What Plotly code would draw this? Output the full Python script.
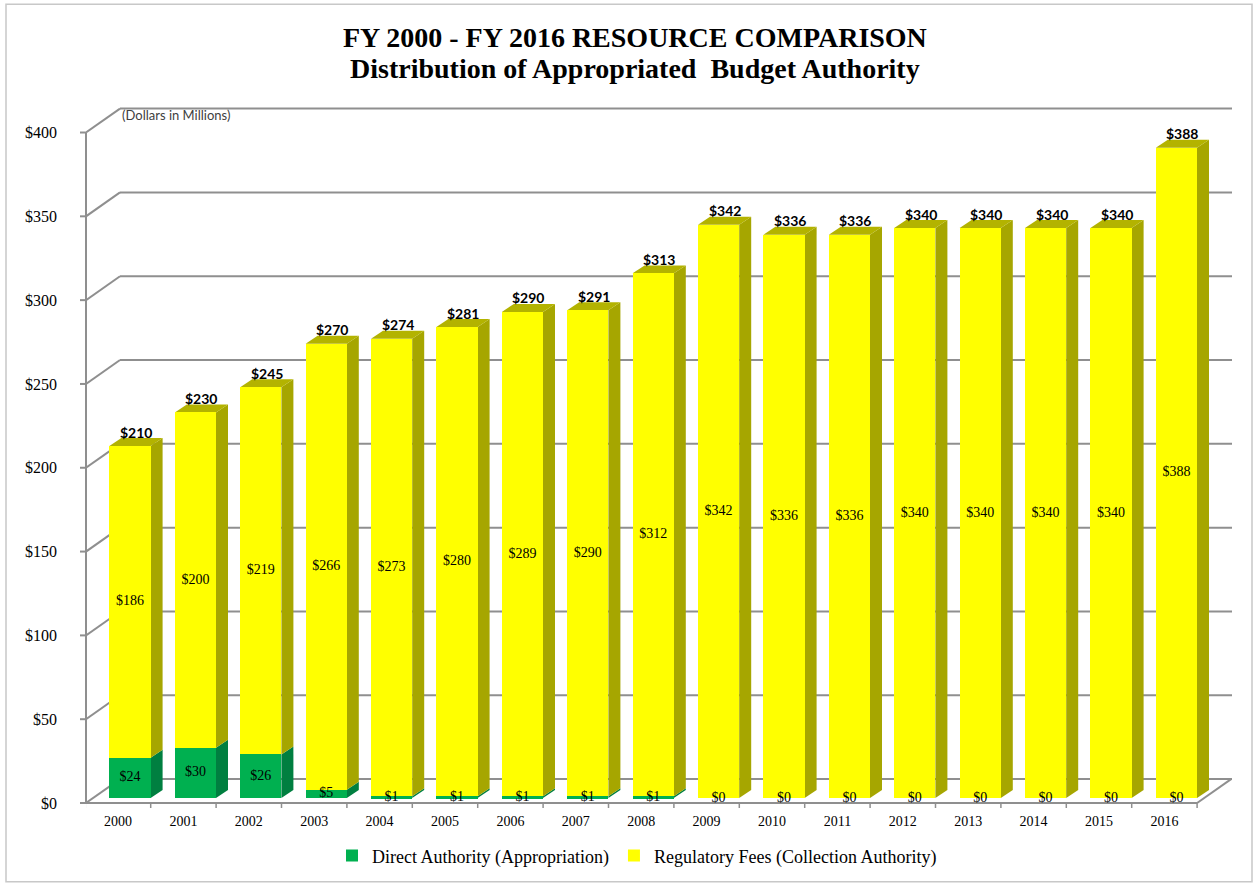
import plotly.graph_objects as go

# ---------------- data ----------------
years = [str(y) for y in range(2000, 2017)]
direct = [24, 30, 26, 5, 1, 1, 1, 1, 1, 0, 0, 0, 0, 0, 0, 0, 0]
regulatory = [186, 200, 219, 266, 273, 280, 289, 290, 312, 342, 336, 336, 340, 340, 340, 340, 388]
totals = [210, 230, 245, 270, 274, 281, 290, 291, 313, 342, 336, 336, 340, 340, 340, 340, 388]
y_ticks = [0, 50, 100, 150, 200, 250, 300, 350, 400]
y_tick_text = ["$" + str(v) for v in y_ticks]
title_line1 = "FY 2000 - FY 2016 RESOURCE COMPARISON"
title_line2 = "Distribution of Appropriated  Budget Authority"

# ---------------- layout geometry (pixel projection of the pseudo-3D view) ----------------
W, H = 1256, 886
L, R, T, B = 86, 16, 100, 76
plot_w, plot_h = W - L - R, H - T - B
PX_X = 65.4      # pixels per category
X0_PX = 130.0    # pixel centre of first bar front face
PX_Y = 1.681     # pixels per $1M
Y0_PX = 800.0    # pixel of value 0 on bar front plane


def xd(px):
    return (px - X0_PX) / PX_X


def yd(px):
    return (Y0_PX - px) / PX_Y


def xp(px):
    return (px - L) / plot_w


def yp(px):
    return (H - B - px) / plot_h


FRONT_DX, FRONT_DY = -12 / PX_X, -5 / PX_Y     # front plane (axis) offset vs bar plane
WALL_DX, WALL_DY = 34 / PX_X, 24 / PX_Y        # back wall offset vs front plane
DEPTH_DX, DEPTH_DY = 12 / PX_X, 8 / PX_Y       # bar depth
BAR_W = 0.63

GRID = "#8f8f8f"
GREEN, GREEN_SIDE, GREEN_TOP = "#00B050", "#007F40", "#00954A"
YELLOW, YELLOW_SIDE, YELLOW_TOP = "#FFFF00", "#A6A600", "#B3B300"

idx = list(range(len(years)))
shapes = []

# back wall gridlines + diagonals to the front axis + tick marks
x_front_left = xd(L)
for g in y_ticks:
    yf = g + FRONT_DY
    yb = yf + WALL_DY
    shapes.append(dict(type="line", xref="x", yref="y", x0=x_front_left + WALL_DX, x1=x_front_left + WALL_DX + (1232 - 120) / PX_X,
                       y0=yb, y1=yb, line=dict(color=GRID, width=2), layer="below"))
    shapes.append(dict(type="line", xref="x", yref="y", x0=x_front_left, x1=x_front_left + WALL_DX,
                       y0=yf, y1=yb, line=dict(color=GRID, width=2), layer="below"))
    shapes.append(dict(type="line", xref="paper", yref="y", x0=xp(80), x1=0,
                       y0=yf, y1=yf, line=dict(color=GRID, width=2), layer="below"))

# front axis line
shapes.append(dict(type="line", xref="paper", yref="y", x0=0, x1=0,
                   y0=y_ticks[0] + FRONT_DY, y1=y_ticks[-1] + FRONT_DY, line=dict(color=GRID, width=2), layer="below"))
# floor front edge and right edge
floor_right = len(years) - 0.5 + FRONT_DX
shapes.append(dict(type="line", xref="x", yref="y", x0=x_front_left, x1=floor_right,
                   y0=FRONT_DY, y1=FRONT_DY, line=dict(color=GRID, width=2), layer="below"))
shapes.append(dict(type="line", xref="x", yref="y", x0=floor_right, x1=floor_right + WALL_DX,
                   y0=FRONT_DY, y1=FRONT_DY + WALL_DY, line=dict(color=GRID, width=2), layer="below"))
# category tick marks on floor front edge
for k in range(len(years) + 1):
    xk = k - 0.5 + FRONT_DX
    shapes.append(dict(type="line", xref="x", yref="y", x0=xk, x1=xk,
                       y0=FRONT_DY, y1=FRONT_DY - 6 / PX_Y, line=dict(color=GRID, width=1.5), layer="below"))


def poly(pts):
    return "M " + " L ".join(f"{x},{y}" for x, y in pts) + " Z"


# 3D faces of the bars
for i in idx:
    segs = [(0, direct[i], GREEN_SIDE), (direct[i], direct[i] + regulatory[i], YELLOW_SIDE)]
    xr = i + BAR_W / 2
    xl = i - BAR_W / 2
    for b0, t0, col in segs:
        if t0 - b0 <= 0:
            continue
        shapes.append(dict(type="path", xref="x", yref="y", layer="below",
                           path=poly([(xr, b0), (xr + DEPTH_DX, b0 + DEPTH_DY), (xr + DEPTH_DX, t0 + DEPTH_DY), (xr, t0)]),
                           fillcolor=col, line=dict(width=0)))
    top = direct[i] + regulatory[i]
    shapes.append(dict(type="path", xref="x", yref="y", layer="below",
                       path=poly([(xl, top), (xr, top), (xr + DEPTH_DX, top + DEPTH_DY), (xl + DEPTH_DX, top + DEPTH_DY)]),
                       fillcolor=YELLOW_TOP, line=dict(width=0)))

# figure border
shapes.append(dict(type="rect", xref="paper", yref="paper", x0=xp(6), x1=xp(1252), y0=yp(884), y1=yp(4),
                   line=dict(color="#c8c8c8", width=1.5), fillcolor="rgba(0,0,0,0)", layer="below"))

fig = go.Figure()
fig.add_trace(go.Bar(x=idx, y=direct, name="Direct Authority (Appropriation)", marker=dict(color=GREEN, line=dict(width=0)),
                     width=BAR_W))
fig.add_trace(go.Bar(x=idx, y=regulatory, name="Regulatory Fees (Collection Authority)",
                     marker=dict(color=YELLOW, line=dict(width=0)), width=BAR_W))

serif = "Liberation Serif, Times New Roman, serif"
fig.add_trace(go.Scatter(x=idx, y=[d / 2 for d in direct], mode="text", text=["$" + str(d) for d in direct],
                         textfont=dict(family=serif, size=14, color="black"), showlegend=False, hoverinfo="skip"))
fig.add_trace(go.Scatter(x=idx, y=[d + r / 2 for d, r in zip(direct, regulatory)], mode="text",
                         text=["$" + str(r) for r in regulatory],
                         textfont=dict(family=serif, size=14, color="black"), showlegend=False, hoverinfo="skip"))

annotations = []
for i in idx:
    annotations.append(dict(x=i, y=direct[i] + regulatory[i], xref="x", yref="y", text="<b>$" + str(totals[i]) + "</b>",
                            showarrow=False, xshift=6, yshift=14, yanchor="middle",
                            font=dict(family="Lato, Open Sans, sans-serif", size=14, color="black")))
annotations.append(dict(x=xd(120), y=yd(115), xref="x", yref="y", text="(Dollars in Millions)", showarrow=False,
                        xanchor="left", yanchor="middle", font=dict(family="Lato, sans-serif", size=13, color="#404040")))
annotations.append(dict(x=xp(635), y=yp(37), xref="paper", yref="paper", text="<b>" + title_line1 + "</b>",
                        showarrow=False, xanchor="center", yanchor="middle",
                        font=dict(family=serif, size=28, color="black")))
annotations.append(dict(x=xp(635), y=yp(68), xref="paper", yref="paper", text="<b>" + title_line2 + "</b>",
                        showarrow=False, xanchor="center", yanchor="middle",
                        font=dict(family=serif, size=28, color="black")))

fig.update_layout(
    width=W, height=H,
    margin=dict(l=L, r=R, t=T, b=B, pad=0),
    paper_bgcolor="white", plot_bgcolor="rgba(0,0,0,0)",
    barmode="stack", bargap=0,
    xaxis=dict(range=[xd(L), xd(W - R)], tickvals=[i + FRONT_DX for i in idx], ticktext=years,
               showgrid=False, zeroline=False, showline=False, ticks="",
               tickfont=dict(family=serif, size=14, color="black"), ticklabelstandoff=3),
    yaxis=dict(range=[yd(H - B), yd(T)], tickvals=[g + FRONT_DY for g in y_ticks], ticktext=y_tick_text,
               showgrid=False, zeroline=False, showline=False, ticks="",
               tickfont=dict(family=serif, size=16, color="black"), ticklabelstandoff=28),
    legend=dict(orientation="h", x=xp(637), xanchor="center", y=yp(858), yanchor="middle",
                font=dict(family=serif, size=18, color="black"), itemwidth=30, tracegroupgap=0,
                traceorder="normal", bgcolor="rgba(0,0,0,0)"),
    shapes=shapes, annotations=annotations,
    showlegend=True,
)

fig.write_html("out.html")
